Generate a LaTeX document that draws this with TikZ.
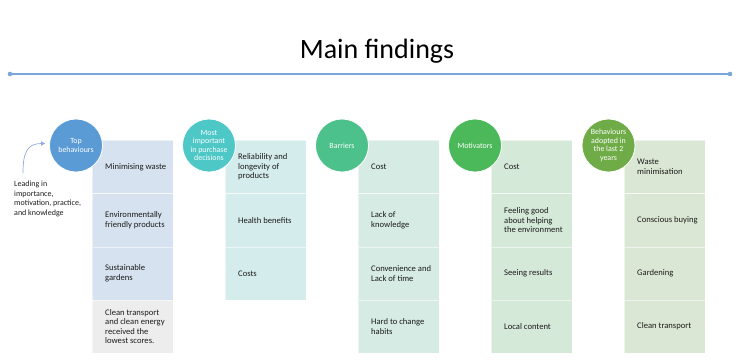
\documentclass[tikz,border=0pt]{standalone}
\usepackage{fontspec}
\setmainfont{Carlito}
\usetikzlibrary{arrows.meta}
\definecolor{txt}{HTML}{1C1C1C}
\definecolor{lineblue}{HTML}{7AA6D9}
\definecolor{arrowblue}{HTML}{8FAADC}
\definecolor{cA}{HTML}{5B9BD5}
\definecolor{cB}{HTML}{4EC7C7}
\definecolor{cC}{HTML}{4CC18C}
\definecolor{cD}{HTML}{4BB85A}
\definecolor{cE}{HTML}{6FAC48}
\definecolor{rA}{HTML}{D6E2F0}
\definecolor{rAg}{HTML}{EDEDED}
\definecolor{rB}{HTML}{D5ECEC}
\definecolor{rC}{HTML}{D5EBE4}
\definecolor{rD}{HTML}{D5E9D9}
\definecolor{rE}{HTML}{DAE7D4}
\begin{document}
\begin{tikzpicture}[x=1pt,y=-1pt,
  cellbox/.style={draw=white, draw opacity=0.55, line width=0.5pt, minimum width=81pt, minimum height=53.25pt, anchor=north west, inner sep=0pt},
  celltext/.style={anchor=west, align=left, text=txt, inner sep=0pt, font=\fontsize{8.6}{9.6}\selectfont},
  circ/.style={circle, draw=white, line width=0.8pt, minimum size=53pt, inner sep=0pt, text=white, align=center, font=\fontsize{7.9}{8.6}\selectfont},
  annot/.style={anchor=west, align=left, text=txt, inner sep=0pt, font=\fontsize{8}{9.5}\selectfont},
  titlestyle/.style={anchor=base, text=black, inner sep=0pt, font=\fontsize{28}{32}\selectfont}]
\useasboundingbox (0,0) rectangle (750,362);

% title and rule
\node[titlestyle] (title) at (377,58) {Main findings};
\coordinate (l1) at (10,74);
\coordinate (l2) at (730,74);
\draw[lineblue, line width=1.3pt] (l1) -- (l2);
\fill[lineblue] (l1) circle (2.3);
\fill[lineblue] (l2) circle (2.3);

% column 1
\node[cellbox, fill=rA] (a1) at (92,140) {};
\node[cellbox, fill=rA] (a2) at (92,193.25) {};
\node[cellbox, fill=rA] (a3) at (92,246.5) {};
\node[cellbox, fill=rAg] (a4) at (92,299.75) {};
\node[celltext] (ta1) at ([xshift=13pt]a1.west) {Minimising waste};
\node[celltext] (ta2) at ([xshift=13pt]a2.west) {Environmentally\\friendly products};
\node[celltext] (ta3) at ([xshift=13pt]a3.west) {Sustainable\\gardens};
\node[celltext] (ta4) at ([xshift=13pt]a4.west) {Clean transport\\and clean energy\\received the\\lowest scores.};
\node[circ, fill=cA] (ca) at (76,145.5) {Top\\behaviours};

% column 2
\node[cellbox, fill=rB] (b1) at (225,140) {};
\node[cellbox, fill=rB] (b2) at (225,193.25) {};
\node[cellbox, fill=rB] (b3) at (225,246.5) {};
\node[celltext] (tb1) at ([xshift=13pt]b1.west) {Reliability and\\longevity of\\products};
\node[celltext] (tb2) at ([xshift=13pt]b2.west) {Health benefits};
\node[celltext] (tb3) at ([xshift=13pt]b3.west) {Costs};
\node[circ, fill=cB] (cb) at (209,145.5) {Most\\important\\in purchase\\decisions};

% column 3
\node[cellbox, fill=rC] (d1) at (358,140) {};
\node[cellbox, fill=rC] (d2) at (358,193.25) {};
\node[cellbox, fill=rC] (d3) at (358,246.5) {};
\node[cellbox, fill=rC] (d4) at (358,299.75) {};
\node[celltext] (td1) at ([xshift=13pt]d1.west) {Cost};
\node[celltext] (td2) at ([xshift=13pt]d2.west) {Lack of\\knowledge};
\node[celltext] (td3) at ([xshift=13pt]d3.west) {Convenience and\\Lack of time};
\node[celltext] (td4) at ([xshift=13pt]d4.west) {Hard to change\\habits};
\node[circ, fill=cC] (cc) at (342,145.5) {Barriers};

% column 4
\node[cellbox, fill=rD] (e1) at (491,140) {};
\node[cellbox, fill=rD] (e2) at (491,193.25) {};
\node[cellbox, fill=rD] (e3) at (491,246.5) {};
\node[cellbox, fill=rD] (e4) at (491,299.75) {};
\node[celltext] (te1) at ([xshift=13pt]e1.west) {Cost};
\node[celltext] (te2) at ([xshift=13pt]e2.west) {Feeling good\\about helping\\the environment};
\node[celltext] (te3) at ([xshift=13pt]e3.west) {Seeing results};
\node[celltext] (te4) at ([xshift=13pt]e4.west) {Local content};
\node[circ, fill=cD] (cd) at (475,145.5) {Motivators};

% column 5
\node[cellbox, fill=rE] (f1) at (624,140) {};
\node[cellbox, fill=rE] (f2) at (624,193.25) {};
\node[cellbox, fill=rE] (f3) at (624,246.5) {};
\node[cellbox, fill=rE] (f4) at (624,299.75) {};
\node[celltext] (tf1) at ([xshift=13pt]f1.west) {Waste\\minimisation};
\node[celltext] (tf2) at ([xshift=13pt]f2.west) {Conscious buying};
\node[celltext] (tf3) at ([xshift=13pt]f3.west) {Gardening};
\node[celltext] (tf4) at ([xshift=13pt]f4.west) {Clean transport};
\node[circ, fill=cE] (ce) at (608.5,145.5) {Behaviours\\adopted in\\the last 2\\years};

% annotation
\node[annot] (anno) at (14,199) {Leading in\\importance,\\motivation, practice,\\and knowledge};
\coordinate (arS) at (23,173);
\coordinate (arE) at (45,143.5);
\draw[arrowblue, line width=0.7pt, -{Triangle[length=4pt,width=4.5pt]}] (arS) .. controls (23,153) and (27,143.5) .. (arE);
\end{tikzpicture}
\end{document}
